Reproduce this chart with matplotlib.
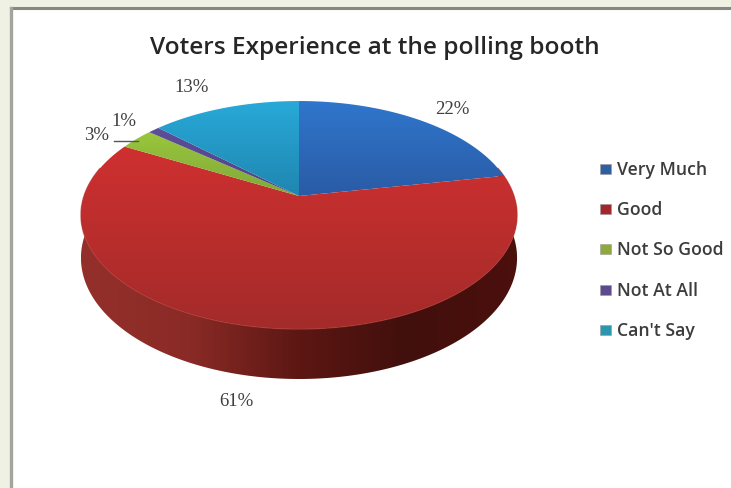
import numpy as np
import matplotlib
matplotlib.use("Agg")
import matplotlib.pyplot as plt
from matplotlib.colors import LinearSegmentedColormap
from matplotlib.patches import Polygon, Rectangle

title = "Voters Experience at the polling booth"
categories = ["Very Much", "Good", "Not So Good", "Not At All", "Can't Say"]
values = [22, 61, 3, 1, 13]

# top and bottom gradient colours of each slice, then legend swatch colours
slice_colors = [("#2f76cc", "#2a5ba6"), ("#cf3030", "#a32b2a"), ("#9ac63c", "#7fa83a"),
                ("#5d4f98", "#4f4285"), ("#28a9d8", "#1f86b0")]
swatch_colors = ["#2f5f9e", "#a3262c", "#8fa83a", "#5c4a8c", "#2b96ad"]
rim_stops = ["#94302b", "#8a2a26", "#5c1713", "#410f0c", "#4c100d"]

# pie geometry, in pixels
cx, cy = 299, 197
rad_x, rad_y = 215, 110.8
persp = 1 / 6
depth = 41.7

W, H = 731, 489
fig = plt.figure(figsize=(W / 100, H / 100), dpi=100, facecolor="#eef1e3")
ax = fig.add_axes([0, 0, 1, 1])
ax.set_axis_off()


def project(theta):
    # clockwise angle from twelve o'clock -> screen position, tilted disc
    u, v = np.sin(theta), np.cos(theta)
    w = 1 + persp * v
    return cx + rad_x * u / w, cy - rad_y * v / w, w


def gradient(poly_xy, colors, horizontal=False, zorder=2):
    cmap = LinearSegmentedColormap.from_list("g", colors)
    xs, ys = poly_xy[:, 0], poly_xy[:, 1]
    grid = np.linspace(0, 1, 256)
    grid = grid.reshape(1, -1) if horizontal else grid.reshape(-1, 1)
    im = ax.imshow(grid, cmap=cmap, aspect="auto", zorder=zorder,
                   extent=(xs.min(), xs.max(), ys.max(), ys.min()))
    clip = Polygon(poly_xy, closed=True, transform=ax.transData)
    im.set_clip_path(clip)


# frame of the chart area
ax.add_patch(Rectangle((11, 10), W, H, fc="white", ec="none", zorder=0))
ax.plot([11, W], [9, 9], color="#85887f", lw=2.2, zorder=1)
ax.plot([11, 11], [9, H], color="#a2a59b", lw=2.4, zorder=1)

# side wall of the pie
t = np.linspace(np.radians(75), np.radians(285), 300)
px, py, pw = project(t)
lower = np.column_stack([px, py + depth / pw])
upper = np.column_stack([px, py])
rim = np.vstack([upper, lower[::-1]])
gradient(rim, rim_stops, horizontal=True, zorder=2)
ax.plot(px, py, color="#b8403a", lw=1.0, alpha=0.7, zorder=3)

# top face slices, clockwise from twelve o'clock
edges = np.cumsum([0] + values) / sum(values) * 2 * np.pi
for i, name in enumerate(categories):
    t = np.linspace(edges[i], edges[i + 1], 200)
    px, py, _ = project(t)
    poly = np.column_stack([np.r_[cx, px], np.r_[cy, py]])
    gradient(poly, slice_colors[i], zorder=4)

# percentage labels
label_pos = [(452, 110), (236, 401), (97, 136), (124, 121), (192, 88)]
for val, (lx, ly) in zip(values, label_pos):
    ax.text(lx, ly, f"{val}%", ha="center", va="center", fontsize=13.5,
            family="Liberation Serif", color="#3f3f3f", zorder=6)
ax.plot([114, 138], [142, 142], color="#555555", lw=1.0, zorder=6)

ax.text(375, 48, title, ha="center", va="center", fontsize=17.6,
        family="Open Sans", fontweight="semibold", color="#262626", zorder=6)

# legend
leg_y = [170, 210, 250, 291, 331]
for name, c, ly in zip(categories, swatch_colors, leg_y):
    ax.add_patch(Rectangle((600, ly - 5), 11, 10, fc=c, ec="#9a9a9a", lw=0.4, zorder=6))
    ax.text(617, ly, name, ha="left", va="center", fontsize=12.7,
            family="Open Sans", fontweight="semibold", color="#3c3c3c", zorder=6)

ax.set_xlim(0, W)
ax.set_ylim(H, 0)
fig.savefig("out.png", dpi=100, facecolor=fig.get_facecolor())
